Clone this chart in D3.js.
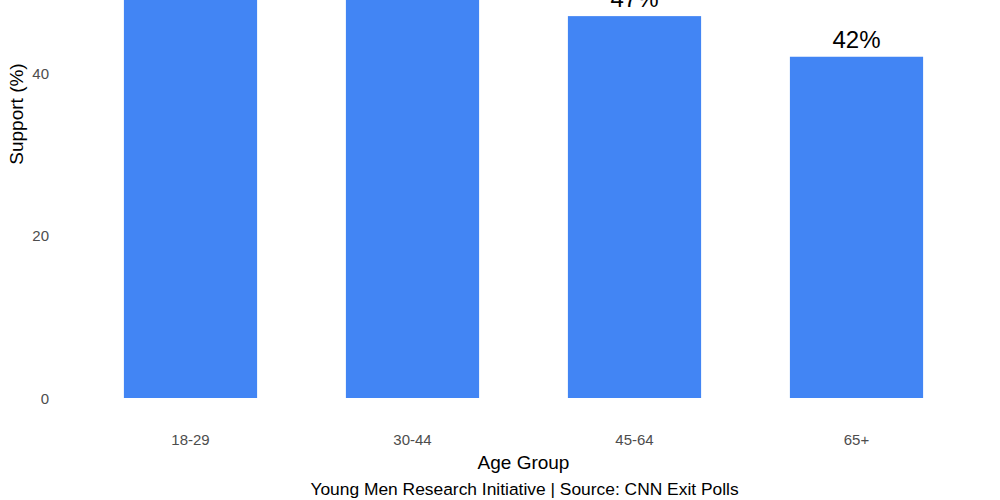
<!DOCTYPE html>
<html><head><meta charset="utf-8">
<script src="https://cdn.jsdelivr.net/npm/d3@7"></script>
<style>body{margin:0;background:#fff;overflow:hidden}svg{display:block}</style>
</head><body>
<script>
const categories = ["18-29", "30-44", "45-64", "65+"];
const values = [56, 52, 47, 42];
const yTicks = [0, 20, 40];

const W = 1000, H = 500;
const svg = d3.select("body").append("svg").attr("width", W).attr("height", H);
const font = "'Liberation Sans', Arial, Helvetica, sans-serif";

const x = d3.scaleBand().domain(categories).range([57.3, 989.7]).paddingInner(0.4).paddingOuter(0.3);
const y = d3.scaleLinear().domain([0, 40]).range([398, 73]);

svg.append("g").selectAll("rect").data(values).join("rect")
  .attr("x", (d, i) => x(categories[i]))
  .attr("width", x.bandwidth())
  .attr("y", d => y(d))
  .attr("height", d => y(0) - y(d))
  .attr("fill", "#4285F4");

svg.append("g").selectAll("text").data(values).join("text")
  .attr("x", (d, i) => x(categories[i]) + x.bandwidth() / 2)
  .attr("y", d => y(d) - 9)
  .attr("text-anchor", "middle")
  .attr("font-family", font).attr("font-size", 24).attr("fill", "#000")
  .text(d => d + "%");

const yAxis = svg.append("g").attr("transform", "translate(49,0)")
  .call(d3.axisLeft(y).tickValues(yTicks).tickSize(0).tickPadding(0));
yAxis.select(".domain").remove();
yAxis.selectAll("text").attr("font-family", font).attr("font-size", 15).attr("fill", "#4d4d4d").attr("dy", "0.35em");

const xAxis = svg.append("g").attr("transform", "translate(0,434)")
  .call(d3.axisBottom(x).tickSize(0).tickPadding(0));
xAxis.select(".domain").remove();
xAxis.selectAll("text").attr("font-family", font).attr("font-size", 15).attr("fill", "#4d4d4d").attr("dy", "0.71em");

svg.append("text").attr("x", 523.5).attr("y", 469).attr("text-anchor", "middle")
  .attr("font-family", font).attr("font-size", 19).attr("fill", "#000").text("Age Group");
svg.append("text").attr("x", 524.5).attr("y", 495).attr("text-anchor", "middle")
  .attr("font-family", font).attr("font-size", 17.4).attr("fill", "#000")
  .text("Young Men Research Initiative | Source: CNN Exit Polls");
svg.append("text").attr("transform", "translate(23,114) rotate(-90)").attr("text-anchor", "middle")
  .attr("font-family", font).attr("font-size", 19).attr("fill", "#000").text("Support (%)");
</script>
</body></html>
